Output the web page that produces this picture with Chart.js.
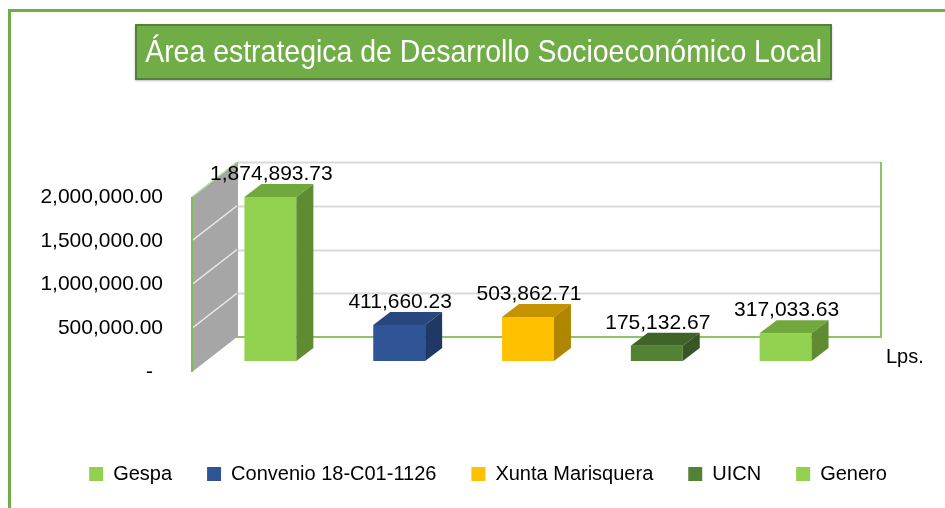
<!DOCTYPE html>
<html>
<head>
<meta charset="utf-8">
<script src="https://cdn.jsdelivr.net/npm/chart.js@4"></script>
<style>
  html, body { margin: 0; padding: 0; background: #fff; }
  body { width: 945px; height: 508px; position: relative; overflow: hidden; }
  #chart { position: absolute; left: 0; top: 0; }
  .frame { position: absolute; left: 8px; top: 9px; width: 1000px; height: 600px;
    border-left: 3px solid #70ad47; border-top: 3px solid #70ad47; }
  .title-box { position: absolute; left: 135px; top: 24px; width: 693px; height: 52px;
    background: #70ad47; border: 2px solid #548235; box-shadow: 0 1px 2px rgba(0,0,0,0.25);
    display: flex; align-items: center; justify-content: center; overflow: hidden; }
  .title-box span { display: inline-block; white-space: nowrap; color: #fff;
    font: 32px 'Liberation Sans Narrow', 'Arial Narrow', 'Liberation Sans', sans-serif;
    transform-origin: center center; margin-top: -2px; }
</style>
</head>
<body>
<canvas id="chart" width="945" height="508"></canvas>
<div class="frame"></div>
<div class="title-box"><span id="titleText">Área estrategica de Desarrollo Socioeconómico Local</span></div>
<script>
// ─── DATA ─────────────────────────────────────────────────────
const categories = ['Lps.'];
const seriesNames = ['Gespa', 'Convenio 18-C01-1126', 'Xunta Marisquera', 'UICN', 'Genero'];
const seriesValues = [1874893.73, 411660.23, 503862.71, 175132.67, 317033.63];
const yTicks = [0, 500000, 1000000, 1500000, 2000000];

// colours: front, top, side
const frontColors = ['#92d050', '#2f5597', '#ffc000', '#548235', '#92d050'];
const topColors   = ['#70a83c', '#27477e', '#c49300', '#3f6328', '#70a83c'];
const sideColors  = ['#5f8c31', '#203864', '#b08500', '#375623', '#5f8c31'];

// ─── 3D GEOMETRY ──────────────────────────────────────────────
const WALL_DX = 45, WALL_DY = -35;   // depth of the whole box
const BAR_DX = 14, BAR_DY = -11;     // where the bar fronts sit inside it
const DEPTH_DX = 17, DEPTH_DY = -13; // depth of each bar

const fmt = v => v.toLocaleString('en-US', { minimumFractionDigits: 2, maximumFractionDigits: 2 });
const FONT = "'Liberation Sans', Arial, sans-serif";

const box3d = {
  id: 'box3d',
  beforeDatasetsDraw(chart) {
    const { ctx, chartArea: a, scales: { y } } = chart;
    const y0 = y.getPixelForValue(yTicks[0]);
    const yMax = y.getPixelForValue(yTicks[yTicks.length - 1]);
    ctx.save();
    // back wall
    const bl = a.left + WALL_DX, br = a.right + WALL_DX;
    ctx.fillStyle = '#fff';
    ctx.fillRect(bl, yMax + WALL_DY, br - bl, y0 - yMax);
    ctx.strokeStyle = '#d9d9d9';
    ctx.lineWidth = 2;
    yTicks.slice(1).forEach(t => {
      const py = Math.round(y.getPixelForValue(t) + WALL_DY) + 0.5;
      ctx.beginPath(); ctx.moveTo(bl, py); ctx.lineTo(br, py); ctx.stroke();
    });
    ctx.strokeStyle = '#8cc466';
    ctx.beginPath();
    ctx.moveTo(bl, yMax + WALL_DY); ctx.lineTo(bl, y0 + WALL_DY);
    ctx.lineTo(br, y0 + WALL_DY); ctx.lineTo(br, yMax + WALL_DY);
    ctx.stroke();
    // side wall
    ctx.fillStyle = '#a6a6a6';
    ctx.beginPath();
    ctx.moveTo(a.left, yMax); ctx.lineTo(bl, yMax + WALL_DY);
    ctx.lineTo(bl, y0 + WALL_DY); ctx.lineTo(a.left, y0);
    ctx.closePath(); ctx.fill();
    ctx.strokeStyle = '#ececec';
    ctx.lineWidth = 1.5;
    yTicks.slice(1, -1).forEach(t => {
      const py = y.getPixelForValue(t);
      ctx.beginPath(); ctx.moveTo(a.left, py); ctx.lineTo(bl, py + WALL_DY); ctx.stroke();
    });
    ctx.strokeStyle = '#b5dc98';
    ctx.beginPath(); ctx.moveTo(a.left, yMax); ctx.lineTo(bl, yMax + WALL_DY); ctx.stroke();
    ctx.strokeStyle = '#7fbb57';
    ctx.lineWidth = 2;
    ctx.beginPath(); ctx.moveTo(a.left, yMax); ctx.lineTo(a.left, y0); ctx.stroke();
    ctx.restore();
    // bar fronts are drawn by Chart.js, moved into the box
    ctx.save();
    ctx.translate(BAR_DX, BAR_DY);
  },
  afterDatasetsDraw(chart) {
    const { ctx, chartArea: a, scales: { y } } = chart;
    chart.data.datasets.forEach((ds, i) => {
      const el = chart.getDatasetMeta(i).data[0];
      const { x, y: top, base, width } = el.getProps(['x', 'y', 'base', 'width'], true);
      const l = x - width / 2, r = x + width / 2;
      ctx.fillStyle = topColors[i];
      ctx.beginPath();
      ctx.moveTo(l, top); ctx.lineTo(l + DEPTH_DX, top + DEPTH_DY);
      ctx.lineTo(r + DEPTH_DX, top + DEPTH_DY); ctx.lineTo(r, top);
      ctx.closePath(); ctx.fill();
      ctx.fillStyle = sideColors[i];
      ctx.beginPath();
      ctx.moveTo(r, top); ctx.lineTo(r + DEPTH_DX, top + DEPTH_DY);
      ctx.lineTo(r + DEPTH_DX, base + DEPTH_DY); ctx.lineTo(r, base);
      ctx.closePath(); ctx.fill();
    });
    ctx.restore();
    // value labels
    ctx.save();
    ctx.font = '21px ' + FONT;
    ctx.fillStyle = '#000';
    ctx.textAlign = 'center';
    ctx.textBaseline = 'alphabetic';
    chart.data.datasets.forEach((ds, i) => {
      const el = chart.getDatasetMeta(i).data[0];
      ctx.fillText(fmt(ds.data[0]), el.x + BAR_DX + 1, el.y + BAR_DY + DEPTH_DY - 4);
    });
    // category label at the right
    ctx.font = '20px ' + FONT;
    ctx.textAlign = 'left';
    ctx.textBaseline = 'middle';
    ctx.fillText(categories[0], a.right + 50, y.getPixelForValue(0) - 15);
    ctx.restore();
  }
};

new Chart(document.getElementById('chart'), {
  type: 'bar',
  data: {
    labels: categories,
    datasets: seriesNames.map((name, i) => ({
      label: name,
      data: [seriesValues[i]],
      backgroundColor: frontColors[i],
      borderWidth: 0,
      categoryPercentage: 1,
      barPercentage: 0.403
    }))
  },
  options: {
    responsive: false, animation: false,
    layout: { padding: { left: 31, right: 0, top: 197, bottom: 14 } },
    plugins: {
      legend: {
        position: 'bottom',
        labels: { boxWidth: 14, boxHeight: 14, padding: 35, color: '#000', font: { family: FONT, size: 20 } }
      },
      tooltip: { enabled: false }
    },
    scales: {
      x: {
        display: true,
        ticks: { display: false },
        grid: { display: false, drawTicks: false },
        border: { display: false },
        afterFit: s => { s.height = 57; }
      },
      y: {
        min: yTicks[0], max: yTicks[yTicks.length - 1],
        afterBuildTicks: s => { s.ticks = yTicks.map(v => ({ value: v })); },
        ticks: {
          padding: 29, color: '#000', font: { family: FONT, size: 21 },
          callback: v => v === 0 ? '- \u2009' : fmt(v)
        },
        grid: { display: false, drawTicks: false },
        border: { display: false },
        afterFit: s => { s.width = 161; }
      },
      yR: {
        position: 'right', display: true,
        ticks: { display: false },
        grid: { display: false, drawTicks: false },
        border: { display: false },
        afterFit: s => { s.width = 109; }
      }
    }
  },
  plugins: [box3d]
});

// fit the title into its box the way the condensed original font does
const titleEl = document.getElementById('titleText');
titleEl.style.transform = `scaleX(${677 / titleEl.getBoundingClientRect().width})`;
</script>
</body>
</html>
